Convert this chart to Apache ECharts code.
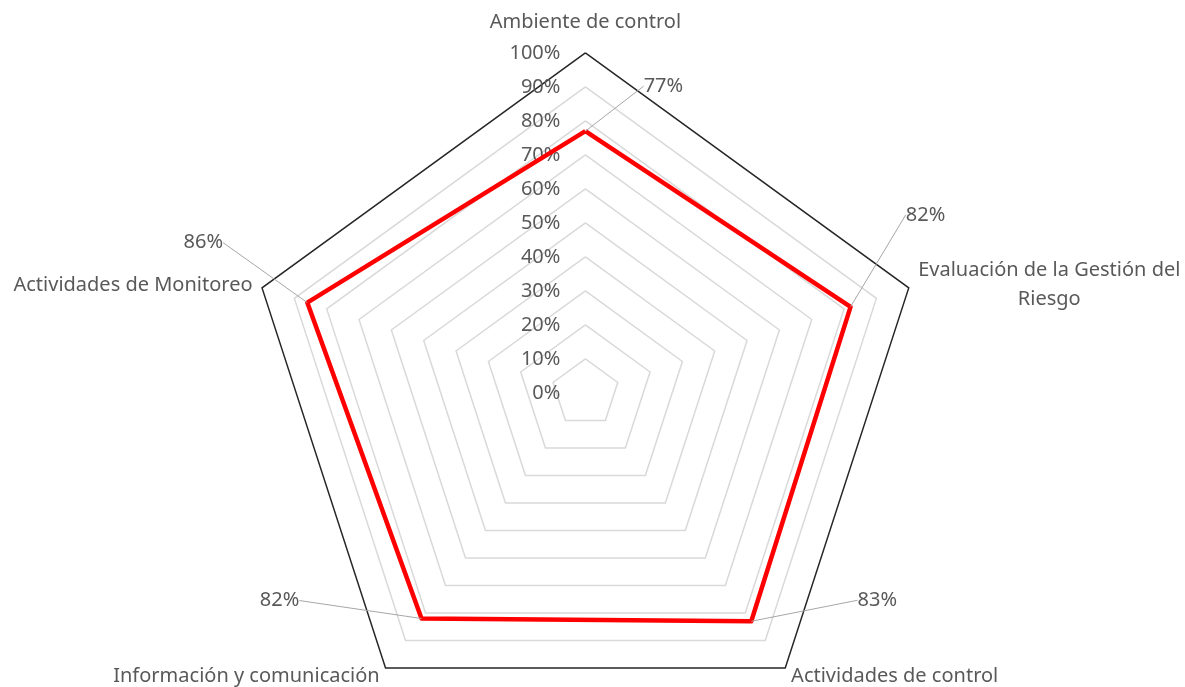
<!DOCTYPE html>
<html>
<head>
<meta charset="utf-8">
<script src="https://cdn.jsdelivr.net/npm/echarts@6/dist/echarts.min.js"></script>
<style>
  html, body { margin: 0; padding: 0; background: #fff; }
  #chart { width: 1185px; height: 687px; }
</style>
</head>
<body>
<div id="chart"></div>
<script>
// categories in clockwise order, starting from the top
const categories = [
  'Ambiente de control',
  'Evaluación de la Gestión del\nRiesgo',
  'Actividades de control',
  'Información y comunicación',
  'Actividades de Monitoreo'
];
const values = [0.77, 0.82, 0.83, 0.82, 0.86];
const tickValues = [0, 0.1, 0.2, 0.3, 0.4, 0.5, 0.6, 0.7, 0.8, 0.9, 1];

// label offsets for the data labels (dx, dy from the point)
const labelOffsets = [[78, -45], [75, -92], [126, -21], [-142, -18], [-104, -60]];

const textColor = '#595959';
const fontFamily = 'Noto Sans';
const fontSize = 20;
const center = ['49.4%', '57.2%'];
const radius = 340;

// radar draws indicators counter-clockwise, so reorder
const order = [0, 4, 3, 2, 1];

const myChart = echarts.init(document.getElementById('chart'));

const ringColors = tickValues.map((v, i) => i === tickValues.length - 1 ? '#262626' : '#d9d9d9');

const option = {
  animation: false,
  textStyle: { fontFamily: fontFamily },
  radar: {
    center: center,
    radius: radius,
    startAngle: 90,
    splitNumber: 10,
    shape: 'polygon',
    indicator: order.map(i => ({ name: categories[i], min: 0, max: 1 })),
    axisName: {
      color: textColor,
      fontSize: fontSize,
      fontFamily: fontFamily,
      formatter: function (name) {
        if (name.indexOf('\n') >= 0) {
          return name.split('\n').map(s => '{c|' + s + '}').join('\n');
        }
        if (name === categories[0]) {
          return '{t|' + name + '}';
        }
        return name;
      },
      rich: {
        c: { width: 262, align: 'center', color: textColor, fontSize: fontSize, fontFamily: fontFamily, lineHeight: 29 },
        t: { color: textColor, fontSize: fontSize, fontFamily: fontFamily, padding: [0, 0, 11, 0] }
      }
    },
    nameGap: 10,
    axisLine: { show: false },
    axisTick: { show: false },
    axisLabel: { show: false },
    splitArea: { show: false },
    splitLine: { lineStyle: { color: ringColors, width: 1.5 } }
  },
  polar: {
    center: center,
    radius: radius
  },
  angleAxis: {
    type: 'category',
    data: categories,
    startAngle: 90,
    clockwise: true,
    boundaryGap: false,
    axisLine: { show: false },
    axisTick: { show: false },
    axisLabel: { show: false },
    splitLine: { show: false }
  },
  radiusAxis: {
    type: 'value',
    min: 0,
    max: 1,
    interval: 0.1,
    axisLine: { show: false },
    axisTick: { show: false },
    splitLine: { show: false },
    axisLabel: {
      color: textColor,
      fontSize: fontSize,
      fontFamily: fontFamily,
      margin: 25,
      formatter: v => Math.round(v * 100) + '%'
    }
  },
  series: [
    {
      type: 'radar',
      symbol: 'none',
      lineStyle: { color: '#ff0000', width: 4.5 },
      data: [{ value: order.map(i => values[i]) }]
    },
    {
      type: 'scatter',
      coordinateSystem: 'polar',
      symbolSize: 0.1,
      itemStyle: { color: textColor },
      data: values.map((v, i) => [v, categories[i]]),
      label: {
        show: true,
        position: 'inside',
        color: textColor,
        opacity: 1,
        fontSize: fontSize,
        fontFamily: fontFamily,
        formatter: p => Math.round(p.value[0] * 100) + '%'
      },
      labelLayout: function (p) {
        return { dx: labelOffsets[p.dataIndex][0], dy: labelOffsets[p.dataIndex][1] };
      },
      labelLine: { show: true, lineStyle: { color: '#a6a6a6', width: 1 } }
    }
  ]
};

myChart.setOption(option);
</script>
</body>
</html>
